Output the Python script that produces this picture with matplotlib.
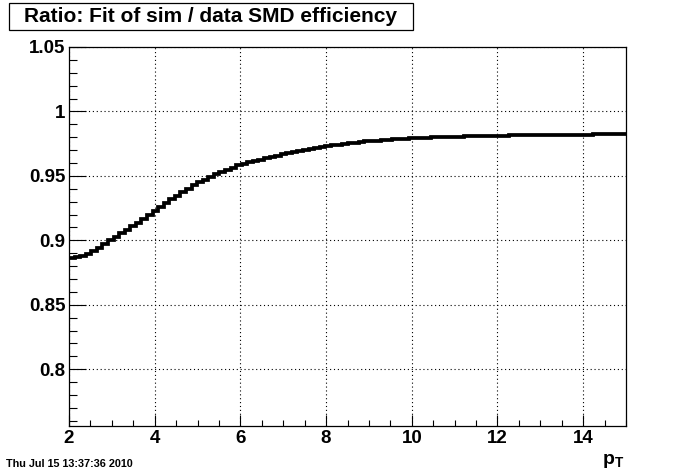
import matplotlib
matplotlib.use("Agg")
import matplotlib.pyplot as plt
import matplotlib.patches as mpatches
from matplotlib.ticker import MultipleLocator, FixedLocator, FixedFormatter
import numpy as np

plt.rcParams['font.family'] = ['Liberation Sans', 'DejaVu Sans']
plt.rcParams['font.weight'] = 'bold'
plt.rcParams['mathtext.fontset'] = 'custom'
plt.rcParams['mathtext.bf'] = 'Liberation Sans:bold'
plt.rcParams['mathtext.rm'] = 'Liberation Sans:bold'

# ---- data ----
x_min, x_max, n_bins = 2.0, 15.0, 100
ratio_values = [
    0.8866, 0.8869, 0.8879, 0.8895, 0.8917, 0.8943, 0.8971, 0.9000, 0.9027, 0.9054,
    0.9081, 0.9109, 0.9138, 0.9168, 0.9198, 0.9228, 0.9259, 0.9289, 0.9318, 0.9347,
    0.9375, 0.9401, 0.9426, 0.9449, 0.9471, 0.9492, 0.9512, 0.9530, 0.9549, 0.9565,
    0.9581, 0.9594, 0.9605, 0.9617, 0.9627, 0.9637, 0.9647, 0.9657, 0.9667, 0.9676,
    0.9685, 0.9694, 0.9702, 0.9710, 0.9718, 0.9725, 0.9732, 0.9738, 0.9743, 0.9749,
    0.9754, 0.9758, 0.9762, 0.9767, 0.9770, 0.9774, 0.9777, 0.9780, 0.9783, 0.9786,
    0.9788, 0.9791, 0.9793, 0.9794, 0.9796, 0.9798, 0.9799, 0.9801, 0.9803, 0.9804,
    0.9805, 0.9806, 0.9807, 0.9808, 0.9809, 0.9811, 0.9812, 0.9812, 0.9813, 0.9814,
    0.9814, 0.9815, 0.9816, 0.9816, 0.9817, 0.9817, 0.9818, 0.9818, 0.9819, 0.9820,
    0.9820, 0.9821, 0.9821, 0.9821, 0.9822, 0.9822, 0.9822, 0.9823, 0.9823, 0.9823,
]
x_ticks = [2, 4, 6, 8, 10, 12, 14]
x_tick_labels = ["2", "4", "6", "8", "10", "12", "14"]
y_ticks = [0.8, 0.85, 0.9, 0.95, 1.0, 1.05]
y_tick_labels = ["0.8", "0.85", "0.9", "0.95", "1", "1.05"]
title_text = "Ratio: Fit of sim / data SMD efficiency"
x_title = r"$\mathbf{p_T}$"
date_text = "Thu Jul 15 13:37:36 2010"

W, H = 696, 474
fig = plt.figure(figsize=(W / 100, H / 100), dpi=100)
fig.patch.set_facecolor("white")

L, R, T, B = 69, 626, 47, 426
ax = fig.add_axes([L / W, (H - B) / H, (R - L) / W, (B - T) / H])

edges = np.linspace(x_min, x_max, n_bins + 1)
ax.stairs(ratio_values, edges, baseline=None, color="black", linewidth=2.7, zorder=3)

ax.set_xlim(x_min, x_max)
ax.set_ylim(0.756, 1.05)

ax.xaxis.set_major_locator(FixedLocator(x_ticks))
ax.xaxis.set_major_formatter(FixedFormatter(x_tick_labels))
ax.xaxis.set_minor_locator(MultipleLocator(0.5))
ax.yaxis.set_major_locator(FixedLocator(y_ticks))
ax.yaxis.set_major_formatter(FixedFormatter(y_tick_labels))
ax.yaxis.set_minor_locator(MultipleLocator(0.01))

ax.tick_params(axis="x", which="major", direction="in", length=8.2, width=0.8,
               labelsize=13.5, pad=3, top=False, bottom=True)
ax.tick_params(axis="x", which="minor", direction="in", length=4.1, width=0.8,
               top=False, bottom=True)
ax.tick_params(axis="y", which="major", direction="in", length=12, width=0.8,
               labelsize=13.5, pad=2.5, left=True, right=False)
ax.tick_params(axis="y", which="minor", direction="in", length=6, width=0.8,
               left=True, right=False)
for lab in ax.get_xticklabels() + ax.get_yticklabels():
    lab.set_fontweight("bold")

ax.grid(True, which="major", color="black", linestyle=(0, (1, 2.5)), linewidth=0.8)
for s in ax.spines.values():
    s.set_linewidth(0.9)
    s.set_color("black")

# title box
bx0, bx1, by0, by1 = 9, 413, 3, 30
fig.patches.append(mpatches.Rectangle((bx0 / W, (H - by1) / H), (bx1 - bx0) / W, (by1 - by0) / H,
                                      transform=fig.transFigure, facecolor="white",
                                      edgecolor="black", linewidth=0.9))
fig.text((bx0 + bx1) / 2 / W, (H - (by0 + by1) / 2) / H, title_text, ha="center", va="center",
         fontsize=15, fontweight="bold")

# x-axis title
fig.text(624 / W, (H - 464) / H, x_title, ha="right", va="baseline", fontsize=14)

# date stamp
fig.text(6 / W, (H - 467) / H, date_text, ha="left", va="baseline", fontsize=7.8, fontweight="bold")

fig.savefig("out.png", dpi=100)
